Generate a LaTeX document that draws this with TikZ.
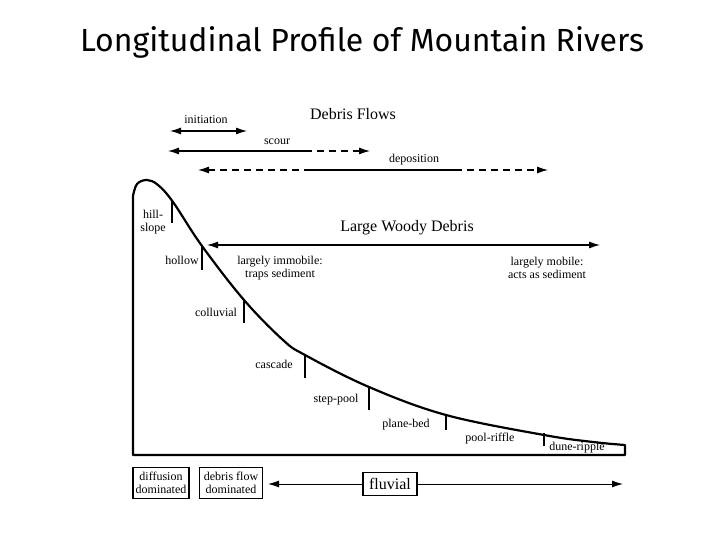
\documentclass[tikz,border=0pt]{standalone}
\usepackage{fontspec}
\setmainfont{Liberation Serif}
\newfontfamily\titlefont{Fira Sans}
\usetikzlibrary{arrows.meta,positioning}

\begin{document}
\begin{tikzpicture}[x=1pt,y=-1pt,
		lbl/.style={font=\fontsize{12}{13}\selectfont,align=center,inner sep=1pt},
		big/.style={font=\fontsize{16}{18}\selectfont,inner sep=1pt},
		tip/.style={-{Latex[length=11pt,width=7pt]}},
		tipl/.style={{Latex[length=11pt,width=7pt]}-},
		tips/.style={{Latex[length=11pt,width=7pt]}-{Latex[length=11pt,width=7pt]}},
		dashline/.style={dash pattern=on 7pt off 5pt},
		regime/.style={draw,line width=1.2pt,inner sep=2pt}]
	\useasboundingbox (0,0) rectangle (720,540);
	\node (title) at (362,42) {\titlefont\fontsize{32}{34}\selectfont Longitudinal Profile of Mountain Rivers};

	% debris flows
	\node[big] (df) at (353,114) {Debris Flows};
	\node[lbl] (ini) at (206,120) {initiation};
	\node[lbl] (sc) at (277,142) {scour};
	\node[lbl] (dep) at (414,160) {deposition};
	\coordinate (ini-l) at (170,131); \coordinate (ini-r) at (247,131);
	\coordinate (sc-l) at (168,151); \coordinate (sc-m) at (305,151); \coordinate (sc-r) at (370,151);
	\coordinate (dep-l) at (198,170); \coordinate (dep-a) at (305,170);
	\coordinate (dep-b) at (455,170); \coordinate (dep-r) at (548,170);
	\path[line width=1.1pt]
		(ini-l) edge[tips] (ini-r)
		(sc-l) edge[tipl] (sc-m)
		(sc-m) edge[tip,dashline] (sc-r)
		(dep-l) edge[tipl,dashline] (dep-a)
		(dep-a) edge (dep-b)
		(dep-b) edge[tip,dashline] (dep-r);

	% profile
	\draw[line width=2.2pt,line join=round] (133,455) -- plot[smooth,tension=0.6] coordinates {(133,196) (137,184) (147,180) (158,185) (173,202) (202,246) (244,300) (283,340) (305,355) (369,387) (446,415) (544,435) (593,442) (625,445)} -- (625,455) -- cycle;
	\foreach \x/\ya/\yb in {172/200/223, 202/246/270, 244/300/323, 305/355/378, 369/387/410, 446/415/430, 544/433/446}
		\draw[line width=1.2pt] (\x,\ya) -- (\x,\yb);
	\node[lbl] (hill) at (153,222) {hill-\\slope};
	\node[lbl] (hol) at (182,260) {hollow};
	\node[lbl] (col) at (216,312) {colluvial};
	\node[lbl] (cas) at (274,364) {cascade};
	\node[lbl] (sp) at (336,400) {step-pool};
	\node[lbl] (pb) at (406,425) {plane-bed};
	\node[lbl] (pr) at (490,439) {pool-riffle};
	\node[lbl] (dr) at (577,448) {dune-ripple};

	% large woody debris
	\node[big] (lwd) at (407,228) {Large Woody Debris};
	\coordinate (lwd-l) at (207,245); \coordinate (lwd-r) at (600,245);
	\draw[tips,line width=1.1pt] (lwd-l) -- (lwd-r);
	\node[lbl] (imm) at (280,268) {largely immobile:\\traps sediment};
	\node[lbl] (mob) at (547,268) {largely mobile:\\acts as sediment};

	% process domains
	\node[regime,lbl,minimum width=56pt,minimum height=31pt] (diff) at (161,483) {diffusion\\dominated};
	\node[regime,lbl,minimum width=63pt,minimum height=31pt] (dfd) at (231,483) {debris flow\\dominated};
	\node[regime,big,minimum width=54pt,minimum height=23pt] (fluv) at (390,484) {fluvial};
	\coordinate (fl-l) at (268,484); \coordinate (fl-r) at (623,484);
	\path[tip,line width=0.9pt]
		(fluv) edge (fl-l)
		(fluv) edge (fl-r);
\end{tikzpicture}
\end{document}
